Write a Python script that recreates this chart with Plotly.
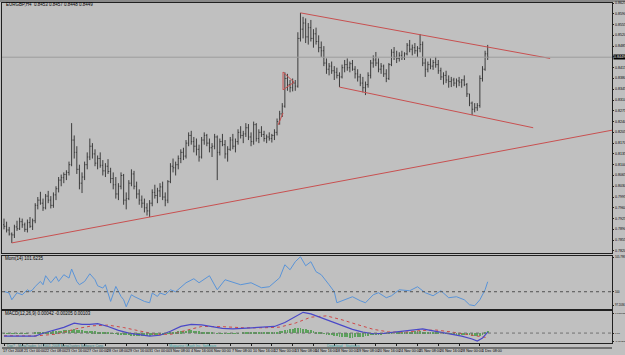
import plotly.graph_objects as go

# ---------------- data (EURGBP, H4) ----------------
bar_index = list(range(187))

opens = [0.7905,
0.7900,0.7888,0.7875,0.7872,0.7898,0.7892,0.7915,0.7905,0.7890,0.7912,0.7900,0.7918,0.7968,0.7985,0.7975,0.7960,0.7998,0.7985,0.7968,0.8002,
0.8022,0.8050,0.8058,0.8068,0.8075,0.8100,0.8180,0.8140,0.8085,0.8040,0.8060,0.8100,0.8125,0.8160,0.8135,0.8105,0.8120,0.8098,0.8080,0.8095,
0.8078,0.8055,0.8035,0.8005,0.8030,0.8065,0.7985,0.7990,0.8040,0.8070,0.8030,0.8005,0.7985,0.7975,0.7960,0.7950,0.7975,0.8010,0.8000,0.8015,
0.8028,0.7995,0.7985,0.8045,0.8095,0.8090,0.8100,0.8120,0.8140,0.8128,0.8170,0.8195,0.8175,0.8160,0.8150,0.8125,0.8180,0.8195,0.8170,0.8155,
0.8160,0.8190,0.8140,0.8175,0.8165,0.8135,0.8150,0.8180,0.8160,0.8175,0.8205,0.8195,0.8200,0.8220,0.8190,0.8175,0.8230,0.8185,0.8205,0.8198,
0.8185,0.8190,0.8185,0.8195,0.8205,0.8240,0.8265,0.8290,0.8380,0.8360,0.8350,0.8365,0.8355,0.8510,0.8540,0.8560,0.8515,0.8545,0.8510,0.8525,
0.8500,0.8480,0.8470,0.8430,0.8410,0.8420,0.8405,0.8400,0.8390,0.8385,0.8415,0.8425,0.8415,0.8428,0.8410,0.8395,0.8385,0.8365,0.8350,0.8360,
0.8390,0.8430,0.8440,0.8430,0.8410,0.8420,0.8395,0.8380,0.8425,0.8465,0.8450,0.8445,0.8455,0.8448,0.8460,0.8488,0.8475,0.8480,0.8470,0.8478,
0.8490,0.8430,0.8410,0.8425,0.8420,0.8432,0.8425,0.8405,0.8385,0.8390,0.8375,0.8370,0.8375,0.8365,0.8372,0.8368,0.8375,0.8360,0.8330,0.8300,
0.8280,0.8285,0.8292,0.8380,0.8410,0.8460]

highs = [0.7925,0.7915,0.7898,0.7880,0.7905,0.7918,0.7928,0.7925,0.7912,0.7922,0.7930,0.7925,0.7975,
0.7995,0.8012,0.7990,0.8005,0.8015,0.7998,0.8010,0.8030,0.8060,
0.8068,0.8075,0.8082,0.8110,0.8235,0.8195,0.8160,0.8100,0.8075,0.8110,0.8140,0.8185,
0.8170,0.8150,0.8130,0.8140,0.8115,0.8105,0.8118,0.8090,0.8075,0.8060,0.8040,0.8075,0.8070,0.8010,
0.8050,0.8085,0.8080,0.8045,0.8020,0.8000,0.7990,0.7975,0.7985,
0.8020,0.8035,0.8025,0.8040,0.8045,0.8010,0.8050,0.8105,0.8120,
0.8110,0.8130,0.8150,0.8155,0.8180,0.8205,0.8210,0.8190,0.8185,0.8165,0.8190,0.8205,0.8200,0.8185,0.8170,0.8200,0.8195,
0.8185,0.8200,0.8180,0.8160,0.8190,0.8200,0.8185,0.8215,0.8225,0.8210,0.8235,0.8232,0.8205,0.8240,0.8235,0.8215,0.8225,0.8210,0.8198,0.8205,0.8200,0.8215,
0.8250,0.8275,0.8300,0.8400,0.8395,0.8375,0.8380,0.8375,0.8530,
0.8593,0.8580,0.8575,0.8560,0.8570,0.8540,0.8545,0.8520,0.8500,0.8485,0.8445,0.8430,0.8435,0.8420,0.8415,0.8400,
0.8425,0.8440,0.8445,0.8435,0.8440,0.8420,0.8410,0.8395,0.8385,0.8370,0.8400,0.8440,0.8455,0.8466,0.8445,0.8430,0.8425,0.8410,0.8430,
0.8475,0.8482,0.8470,0.8465,0.8470,0.8465,0.8495,0.8505,0.8490,0.8495,0.8485,0.8524,0.8500,0.8445,
0.8435,0.8445,0.8440,0.8450,0.8440,0.8415,0.8400,0.8405,0.8390,0.8385,0.8382,0.8380,0.8385,0.8378,0.8390,0.8365,0.8330,0.8305,
0.8300,0.8300,0.8390,0.8420,0.8470,0.8489]

lows = [0.7890,0.7880,0.7870,0.7846,0.7862,0.7885,0.7888,0.7895,0.7882,0.7880,0.7895,0.7888,0.7910,
0.7955,0.7970,0.7950,0.7955,0.7975,0.7958,0.7960,0.7985,0.8010,
0.8030,0.8040,0.8050,0.8065,0.8095,0.8120,0.8070,0.8020,0.8008,0.8050,0.8085,0.8115,
0.8120,0.8095,0.8085,0.8090,0.8065,0.8060,0.8070,0.8040,0.8020,0.7990,0.7985,0.8020,0.7970,0.7955,
0.7985,0.8030,0.8020,0.7990,0.7970,0.7960,0.7945,0.7935,0.7930,
0.7965,0.7990,0.7975,0.7995,0.7985,0.7965,0.7975,0.8040,0.8075,
0.8065,0.8085,0.8105,0.8115,0.8120,0.8160,0.8165,0.8140,0.8130,0.8110,0.8120,0.8165,0.8160,0.8140,0.8125,0.8150,0.8050,
0.8130,0.8160,0.8120,0.8110,0.8145,0.8150,0.8140,0.8165,0.8185,0.8170,0.8190,0.8180,0.8160,0.8165,0.8175,0.8170,0.8190,0.8175,0.8170,0.8178,0.8172,0.8180,
0.8195,0.8230,0.8255,0.8285,0.8340,0.8335,0.8338,0.8340,0.8350,
0.8500,0.8510,0.8495,0.8490,0.8500,0.8480,0.8490,0.8465,0.8450,0.8420,0.8395,0.8390,0.8395,0.8375,0.8380,0.8352,
0.8380,0.8400,0.8405,0.8400,0.8405,0.8380,0.8370,0.8355,0.8335,0.8326,0.8350,0.8380,0.8415,0.8420,0.8400,0.8395,0.8385,0.8368,0.8375,
0.8420,0.8440,0.8430,0.8435,0.8440,0.8440,0.8455,0.8465,0.8455,0.8460,0.8450,0.8465,0.8420,0.8385,
0.8400,0.8410,0.8408,0.8415,0.8395,0.8375,0.8360,0.8365,0.8350,0.8352,0.8355,0.8350,0.8355,0.8350,0.8355,0.8320,0.8290,0.8261,
0.8270,0.8275,0.8285,0.8370,0.8405,0.8440]

closes = [0.7900,0.7888,0.7875,0.7872,0.7898,0.7892,0.7915,0.7905,0.7890,0.7912,0.7900,0.7918,0.7968,
0.7985,0.7975,0.7960,0.7998,0.7985,0.7968,0.8002,0.8022,0.8050,
0.8058,0.8068,0.8075,0.8100,0.8180,0.8140,0.8085,0.8040,0.8060,0.8100,0.8125,0.8160,
0.8135,0.8105,0.8120,0.8098,0.8080,0.8095,0.8078,0.8055,0.8035,0.8005,0.8030,0.8065,0.7985,0.7990,
0.8040,0.8070,0.8030,0.8005,0.7985,0.7975,0.7960,0.7950,0.7975,
0.8010,0.8000,0.8015,0.8028,0.7995,0.7985,0.8045,0.8095,0.8090,
0.8100,0.8120,0.8140,0.8128,0.8170,0.8195,0.8175,0.8160,0.8150,0.8125,0.8180,0.8195,0.8170,0.8155,0.8160,0.8190,0.8140,
0.8175,0.8165,0.8135,0.8150,0.8180,0.8160,0.8175,0.8205,0.8195,0.8200,0.8220,0.8190,0.8175,0.8230,0.8185,0.8205,0.8198,0.8185,0.8190,0.8185,0.8195,0.8205,
0.8240,0.8265,0.8290,0.8380,0.8360,0.8350,0.8365,0.8355,0.8510,
0.8540,0.8560,0.8515,0.8545,0.8510,0.8525,0.8500,0.8480,0.8470,0.8430,0.8410,0.8420,0.8405,0.8400,0.8390,0.8385,
0.8415,0.8425,0.8415,0.8428,0.8410,0.8395,0.8385,0.8365,0.8350,0.8360,0.8390,0.8430,0.8440,0.8430,0.8410,0.8420,0.8395,0.8380,0.8425,
0.8465,0.8450,0.8445,0.8455,0.8448,0.8460,0.8488,0.8475,0.8480,0.8470,0.8478,0.8490,0.8430,0.8410,
0.8425,0.8420,0.8432,0.8425,0.8405,0.8385,0.8390,0.8375,0.8370,0.8375,0.8365,0.8372,0.8368,0.8375,0.8360,0.8330,0.8300,0.8280,
0.8285,0.8292,0.8380,0.8410,0.8460,0.8449]

# trend lines drawn on the chart (bar index, price)
support_x = [3, 233.8]
support_y = [0.7846, 0.8212]
chan_top_x = [114, 210]
chan_top_y = [0.8593, 0.8445]
chan_bot_x = [129, 203.5]
chan_bot_y = [0.8352, 0.8220]
# small red pennant drawing near the breakout
pennant_x = [107.3, 107.3, 111.5, 107.3]
pennant_y = [0.8343, 0.8401, 0.8368, 0.8343]
mark_x = [105.4, 107.3]
mark_y = [0.8229, 0.8268]

# Momentum(14) read at vertices
mom_x = [0,2,3,5,7,9,10,11,12,14,15,16,18,20,21,23,25,26,28,29,31,33,35,36,38,39,41,43,45,46,47,49,50,52,54,56,57,59,60,
         62,64,66,70,73,75,79,82,85,91,95,99,102,106,108,110,112,114,116,118,120,122,125,127,128,131,134,137,139,142,144,147,149,
         152,156,159,162,165,168,171,174,177,179,181,183,185,186]
mom_val = [100.05,99.79,98.70,99.84,99.51,100.32,100.05,100.32,100.86,101.67,101.14,102.60,101.46,102.48,101.67,102.76,102.22,103.69,
           101.67,101.14,101.67,102.92,101.95,100.97,100.60,101.14,98.43,100.86,99.24,98.70,97.56,99.51,99.24,98.81,98.43,98.21,99.79,99.24,99.79,
           99.51,100.32,100.00,101.46,102.11,101.46,102.60,100.32,101.95,101.14,101.46,100.65,100.81,102.27,104.38,103.57,104.87,105.68,104.22,
           104.87,103.25,102.76,101.14,100.00,98.21,98.70,99.19,98.54,98.21,99.51,99.84,99.03,99.35,
           100.32,100.16,100.81,99.84,99.35,100.16,99.03,99.19,98.70,97.89,97.73,98.70,100.32,101.62]

# MACD(12,26,9)
macd_x = [0,12,15,19,23,27,30,33,36,40,44,48,52,56,60,64,68,72,76,80,84,88,92,96,100,104,108,112,115,118,122,126,130,134,138,142,
          146,150,154,158,161,164,168,172,176,180,182,184,186]
macd_val = [-0.0014,-0.0014,-0.0001,0.0012,0.0026,0.0045,0.0039,0.0039,0.0043,0.0030,0.0012,0.0000,-0.0007,-0.0014,-0.0010,0.0008,
            0.0030,0.0039,0.0037,0.0030,0.0021,0.0019,0.0021,0.0026,0.0026,0.0030,0.0048,0.0074,0.0094,0.0087,0.0070,0.0052,0.0034,
            0.0017,0.0004,-0.0003,-0.0001,0.0004,0.0010,0.0017,0.0019,0.0012,0.0004,-0.0005,-0.0014,-0.0027,-0.0036,-0.0023,0.0004]
signal_x = [0,12,20,28,34,40,46,52,58,64,70,76,84,92,100,106,112,118,124,130,136,142,148,154,160,166,172,178,184,186]
signal_val = [-0.0012,-0.0013,-0.0005,0.0020,0.0033,0.0036,0.0025,0.0010,-0.0005,-0.0006,0.0012,0.0030,0.0029,0.0024,0.0024,0.0027,
              0.0045,0.0072,0.0078,0.0060,0.0038,0.0017,0.0005,0.0004,0.0011,0.0014,0.0005,-0.0007,-0.0020,-0.0021]
hist_val = [-0.0002,-0.0002,-0.0003,-0.0003,-0.0002,-0.0002,-0.0001,-0.0001,-0.0001,-0.0001,0.0000,0.0000,0.0001,
            0.0002,0.0003,0.0004,0.0005,0.0006,0.0007,0.0008,0.0009,0.0010,0.0011,
            0.0012,0.0013,0.0014,0.0016,0.0018,0.0016,0.0014,0.0012,
            0.0011,0.0010,0.0010,0.0009,0.0008,0.0007,0.0005,0.0004,0.0002,0.0001,
            -0.0001,-0.0002,-0.0004,-0.0005,-0.0006,-0.0008,-0.0009,-0.0010,-0.0011,-0.0012,-0.0012,-0.0013,-0.0013,-0.0012,-0.0012,-0.0011,
            -0.0010,-0.0009,-0.0008,-0.0006,-0.0005,-0.0003,-0.0001,
            0.0002,0.0004,0.0006,0.0008,0.0009,0.0010,0.0011,0.0012,0.0012,0.0011,0.0010,0.0008,
            0.0006,0.0005,0.0004,0.0002,0.0001,0.0000,-0.0001,-0.0002,-0.0003,-0.0004,-0.0004,-0.0003,-0.0003,-0.0002,-0.0001,
            0.0000,0.0001,0.0001,0.0002,0.0002,0.0002,0.0002,0.0003,0.0002,0.0002,0.0002,0.0003,0.0003,0.0004,
            0.0006,0.0008,0.0010,0.0013,0.0016,0.0018,0.0020,0.0022,0.0023,0.0022,0.0020,0.0018,0.0016,
            0.0013,0.0010,0.0007,0.0004,0.0001,-0.0002,-0.0005,
            -0.0008,-0.0010,-0.0012,-0.0014,-0.0016,-0.0018,-0.0019,-0.0020,-0.0021,-0.0021,-0.0020,-0.0019,-0.0018,-0.0016,-0.0014,-0.0012,-0.0010,-0.0008,
            -0.0007,-0.0006,-0.0005,-0.0004,-0.0003,-0.0002,-0.0001,0.0000,
            0.0001,0.0002,0.0003,0.0004,0.0005,0.0006,0.0007,0.0008,0.0008,0.0008,0.0007,0.0006,0.0005,0.0004,0.0003,
            0.0002,0.0001,0.0000,-0.0001,-0.0002,-0.0003,-0.0004,-0.0005,-0.0006,-0.0006,-0.0007,
            -0.0008,-0.0009,-0.0010,-0.0011,-0.0013,-0.0014,-0.0012,
            -0.0006,0.0002,0.0010]

price_ticks = [0.8625,0.8590,0.8555,0.8520,0.8485,0.8450,0.8415,0.8380,0.8345,0.8310,0.8275,0.8240,
               0.8205,0.8170,0.8135,0.8100,0.8065,0.8030,0.7995,0.7960,0.7925,0.7890,0.7855,0.7820]
price_tick_txt = ["0.8625","0.8590","0.8555","0.8520","0.8485","","0.8415","0.8380","0.8345","0.8310","0.8275","0.8240",
                  "0.8205","0.8170","0.8135","0.8100","0.8065","0.8030","0.7995","0.7960","0.7925","0.7890","0.7855","0.7820"]
mom_ticks = [97.8, 100, 105.6]
mom_tick_txt = ["97.2036", "100", "105.7981"]
macd_ticks = [-0.0036, 0, 0.0090]
macd_tick_txt = ["-0.004512", "0.00", "0.010031"]

time_tick_idx = [0,7,15,23,31,39,47,55,63,71,79,87,95,103,111,119,127,135,143,151,159,167,175,183]
time_tick_txt = ["17 Oct 2008","21 Oct 00:00","22 Oct 08:00","23 Oct 16:00","27 Oct 00:00","28 Oct 08:00",
                 "29 Oct 16:00","31 Oct 00:00","3 Nov 08:00","4 Nov 16:00","6 Nov 00:00","7 Nov 08:00",
                 "10 Nov 16:00","12 Nov 00:00","13 Nov 08:00","14 Nov 16:00","18 Nov 00:00","19 Nov 08:00",
                 "20 Nov 16:00","24 Nov 00:00","25 Nov 08:00","26 Nov 16:00","28 Nov 00:00","1 Dec 08:00"]

# ---------------- styling ----------------
W, H = 625, 355
ML, MR, MT, MB = 2, 13, 3, 11
PH = H - MT - MB  # plot height in px


def pf(ypx):
    return (H - MB - ypx) / PH


BG = "#c0c0c0"
BAR = "#3c3c3c"
RED = "#c85050"
FAM = "Liberation Sans, Arial, sans-serif"
FONT = dict(family=FAM, size=4.5, color="#000000")
AFONT = dict(family=FAM, size=3.6, color="#000000")
TFONT = dict(family=FAM, size=3.7, color="#000000")
XR = [-0.77, 233.8]

fig = go.Figure()

fig.add_trace(go.Ohlc(x=bar_index, open=opens, high=highs, low=lows, close=closes,
                      increasing=dict(line=dict(color=BAR, width=1)),
                      decreasing=dict(line=dict(color=BAR, width=1)),
                      tickwidth=0.35, xaxis="x", yaxis="y", hoverinfo="skip", showlegend=False))

for tx, ty in [(support_x, support_y), (chan_top_x, chan_top_y), (chan_bot_x, chan_bot_y),
               (pennant_x, pennant_y), (mark_x, mark_y)]:
    fig.add_trace(go.Scatter(x=tx, y=ty, mode="lines", line=dict(color=RED, width=1),
                             xaxis="x", yaxis="y", hoverinfo="skip", showlegend=False))

fig.add_trace(go.Scatter(x=mom_x, y=mom_val, mode="lines", line=dict(color="#5a94d8", width=1),
                         xaxis="x2", yaxis="y2", hoverinfo="skip", showlegend=False))

fig.add_trace(go.Bar(x=bar_index, y=hist_val, width=0.35, marker=dict(color="#4c9c4c", line=dict(width=0)),
                     opacity=0.85, xaxis="x3", yaxis="y3", hoverinfo="skip", showlegend=False))
fig.add_trace(go.Scatter(x=signal_x, y=signal_val, mode="lines", line=dict(color="#d04848", width=1, dash="dot"),
                         xaxis="x3", yaxis="y3", hoverinfo="skip", showlegend=False))
fig.add_trace(go.Scatter(x=macd_x, y=macd_val, mode="lines", line=dict(color="#4a48c8", width=1.2),
                         xaxis="x3", yaxis="y3", hoverinfo="skip", showlegend=False))

axcommon = dict(showline=True, mirror=True, linecolor="#202020", linewidth=1, showgrid=False, zeroline=False,
                automargin=False)
ycommon = dict(side="right", tickmode="array", ticks="outside", ticklen=1, tickcolor="#202020",
               showticklabels=False, **axcommon)

fig.update_layout(
    width=W, height=H, margin=dict(l=ML, r=MR, t=MT, b=MB, autoexpand=False),
    paper_bgcolor=BG, plot_bgcolor=BG, font=FONT, showlegend=False, bargap=0,
    xaxis=dict(domain=[0, 1], anchor="y", range=XR, showticklabels=False, ticks="",
               rangeslider=dict(visible=False), **axcommon),
    xaxis2=dict(domain=[0, 1], anchor="y2", range=XR, matches="x", showticklabels=False, ticks="", **axcommon),
    xaxis3=dict(domain=[0, 1], anchor="y3", range=XR, matches="x", showticklabels=False,
                tickmode="array", tickvals=time_tick_idx, ticks="outside", ticklen=2, tickcolor="#202020", **axcommon),
    yaxis=dict(domain=[pf(253), pf(3)], anchor="x", range=[0.8625 - 250 * 0.0035 / 10.78, 0.8625],
               tickvals=price_ticks, **ycommon),
    yaxis2=dict(domain=[pf(309), pf(256)], anchor="x2", range=[97.2, 105.8], tickvals=mom_ticks, **ycommon),
    yaxis3=dict(domain=[pf(343), pf(311)], anchor="x3", range=[-0.0045, 0.0100], tickvals=macd_ticks, **ycommon),
)

shapes = [
    dict(type="line", xref="x domain", yref="y", x0=0, x1=1, y0=closes[-1], y1=closes[-1],
         line=dict(color="#9c9c9c", width=1)),
    dict(type="line", xref="x2 domain", yref="y2", x0=0, x1=1, y0=100, y1=100,
         line=dict(color="#505050", width=1, dash="dot")),
    dict(type="line", xref="x3 domain", yref="y3", x0=0, x1=1, y0=0, y1=0,
         line=dict(color="#707070", width=1, dash="dot")),
    dict(type="line", xref="paper", yref="paper", x0=0, x1=1, y0=pf(348), y1=pf(348),
         line=dict(color="#202020", width=1)),
    dict(type="line", xref="paper", yref="paper", x0=-0.01, x1=1.03, y0=pf(1), y1=pf(1),
         line=dict(color="#8a8a8a", width=2)),
]
fig.update_layout(shapes=shapes)

ann = [
    dict(text="EURGBP,H4  0.8453 0.8457 0.8448 0.8449", x=0.004, y=pf(5), xref="paper", yref="paper",
         xanchor="left", yanchor="middle", showarrow=False, font=FONT),
    dict(text="Mom(14) 101.6235", x=0.002, y=pf(258), xref="paper", yref="paper",
         xanchor="left", yanchor="middle", showarrow=False, font=FONT),
    dict(text="MACD(12,26,9) 0.00042 -0.00205 0.00103", x=0.002, y=pf(313.5), xref="paper", yref="paper",
         xanchor="left", yanchor="middle", showarrow=False, font=FONT),
    dict(text="Digi? - MetaTrader, (c) 2001-2008 MetaQuotes Software Corp.", x=0.005, y=pf(346.3),
         xref="paper", yref="paper", xanchor="left", yanchor="middle", showarrow=False,
         font=dict(family=FAM, size=3.5, color="#2e7d7d")),
    dict(text="Magazine Graph Inc. Software", x=0.27, y=pf(346.3), xref="paper", yref="paper",
         xanchor="left", yanchor="middle", showarrow=False, font=dict(family=FAM, size=3.5, color="#3aa0a0")),
    dict(text="Download   Statistics", x=0.53, y=pf(346.3), xref="paper", yref="paper",
         xanchor="left", yanchor="middle", showarrow=False, font=dict(family=FAM, size=3.5, color="#3aa0a0")),
]
# right-hand scale labels
for yv, yt in zip(price_ticks, price_tick_txt):
    if yt:
        ann.append(dict(text=yt, x=1.0, y=yv, xref="paper", yref="y", xanchor="left", yanchor="middle",
                        xshift=1, showarrow=False, font=AFONT))
for yv, yt in zip(mom_ticks, mom_tick_txt):
    ann.append(dict(text=yt, x=1.0, y=yv, xref="paper", yref="y2", xanchor="left", yanchor="middle",
                    xshift=1, showarrow=False, font=dict(family=FAM, size=2.7, color="#000000")))
for yv, yt in zip(macd_ticks, macd_tick_txt):
    ann.append(dict(text=yt, x=1.0, y=yv, xref="paper", yref="y3", xanchor="left", yanchor="middle",
                    xshift=1, showarrow=False, font=dict(family=FAM, size=2.5, color="#000000")))
ann.append(dict(text="0.8449", x=1.0, y=closes[-1], xref="paper", yref="y", xanchor="left", yanchor="middle",
                xshift=1, showarrow=False, bgcolor="#000000", font=dict(family=FAM, size=3.6, color="#ffffff"),
                borderpad=0))
for k, (ti, tt) in enumerate(zip(time_tick_idx, time_tick_txt)):
    ann.append(dict(text=tt, x=ti, y=pf(351), xref="x3", yref="paper", xanchor="left", yanchor="middle",
                    xshift=-3 if k == 0 else 0, showarrow=False, font=TFONT))
fig.update_layout(annotations=ann)

fig.write_html("out.html")
